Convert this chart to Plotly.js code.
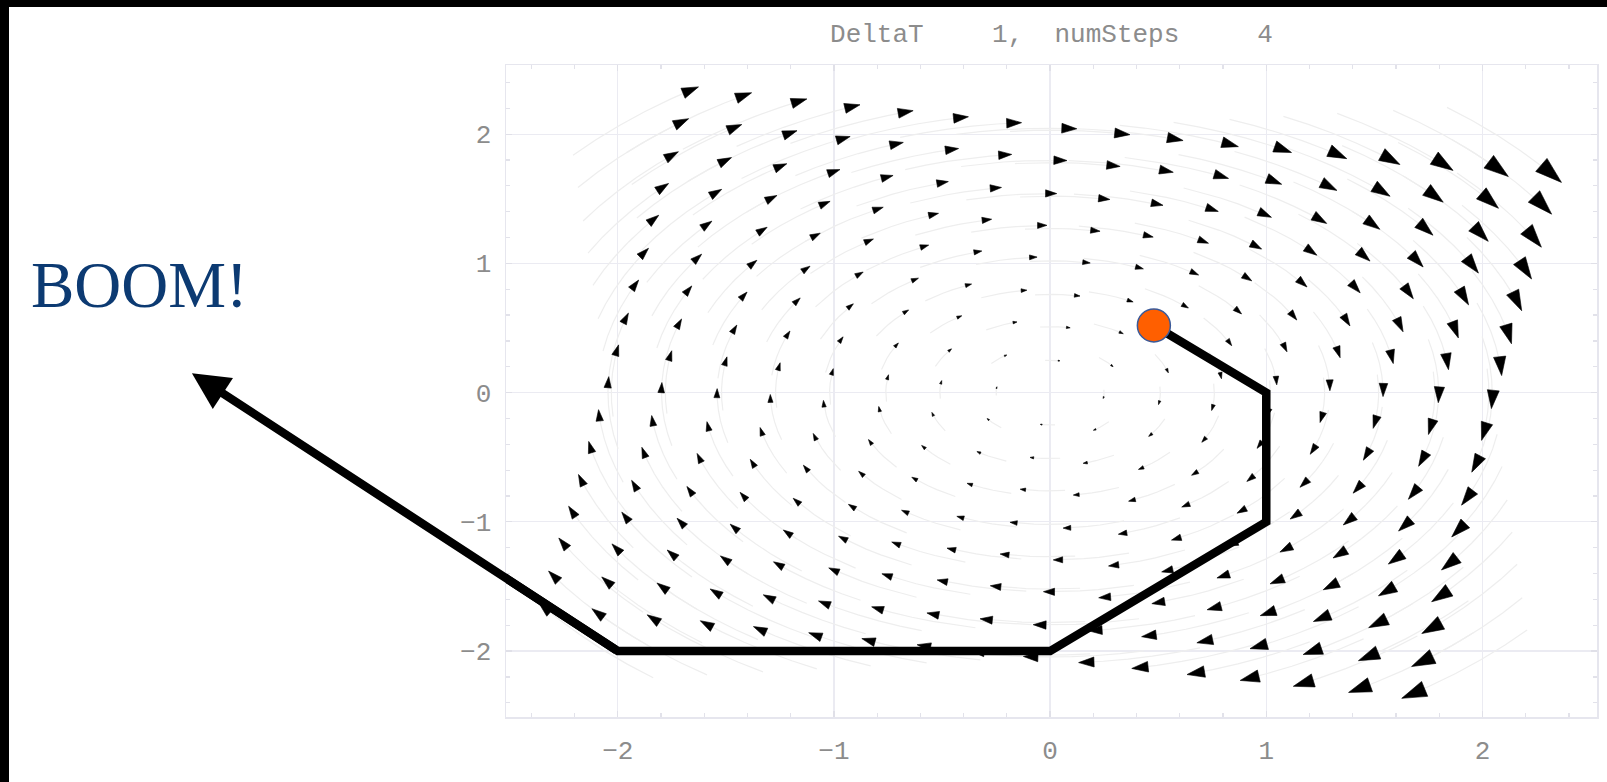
<!DOCTYPE html>
<html>
<head>
<meta charset="utf-8">
<script src="https://cdn.plot.ly/plotly-3.0.1.min.js"></script>
<style>
html,body{margin:0;padding:0;background:#000;width:1607px;height:782px;overflow:hidden;}
#plot{position:absolute;left:9px;top:7px;width:1598px;height:775px;}
</style>
</head>
<body>
<div id="plot"></div>
<script>
// ---------------- DATA ----------------
// stream seed grid (same values used for x and y)
const seedValues = [-2.03, -1.78, -1.52, -1.27, -1.02, -0.76, -0.51, -0.25, 0, 0.25, 0.51, 0.76, 1.02, 1.27, 1.52, 1.78, 2.03];
// integration time of each short stream (arrow tip sits at its end)
const flowTime = 0.183;
// Euler steps, DeltaT = 1, numSteps = 4 (last point is where the arrow ends)
const eulerX = [0.5, 1, 1, 0, -2, -3.97];
const eulerY = [0.5, 0, -1, -2, -2, 0.15];
// starting point marker
const startX = [0.48];
const startY = [0.52];
const xTickVals = [-2, -1, 0, 1, 2];
const yTickVals = [-2, -1, 0, 1, 2];
const titleParts = ['DeltaT', '1,', 'numSteps', '4'];
const boomText = 'BOOM!';

// system: x' = y, y' = -x
const fieldX = (x, y) => y;
const fieldY = (x, y) => -x;
function flow(x0, y0, t) {
  return [x0 * Math.cos(t) + y0 * Math.sin(t), -x0 * Math.sin(t) + y0 * Math.cos(t)];
}

// ---------------- LAYOUT CONSTANTS ----------------
const W = 1598, H = 775;
const M = {l: 497, r: 10, t: 58, b: 65};
const xRange = [-2.517, 2.53];
const yRange = [-2.51, 2.535];
const pxX = (W - M.l - M.r) / (xRange[1] - xRange[0]);
const pxY = (H - M.t - M.b) / (yRange[1] - yRange[0]);
const arrowScale = 7.6;
const arrowSkew = 0.12;   // arrowheads drawn a bit larger toward the right, as in the source

// ---------------- BUILD FIELD ----------------
const arX = [], arY = [], arS = [], arA = [];
const tlX = [], tlY = [];
for (const sy of seedValues) {
  for (const sx of seedValues) {
    const p = flow(sx, sy, flowTime);
    const vx = fieldX(p[0], p[1]), vy = fieldY(p[0], p[1]);
    const sp = Math.hypot(vx, vy);
    arX.push(p[0]); arY.push(p[1]);
    arS.push(arrowScale * sp * (1 + arrowSkew * p[0]));
    arA.push(Math.atan2(vx * pxX, vy * pxY) * 180 / Math.PI);
    for (let k = 0; k <= 5; k++) {
      const q = flow(sx, sy, flowTime * (k / 5) - flowTime * 0.5 * (1 - k / 5));
      tlX.push(q[0]); tlY.push(q[1]);
    }
    tlX.push(null); tlY.push(null);
  }
}

const traces = [
  {type: 'scatter', mode: 'lines', x: tlX, y: tlY, hoverinfo: 'skip',
   line: {color: '#eeeeee', width: 1.2}, showlegend: false},
  {type: 'scatter', mode: 'markers', x: arX, y: arY, hoverinfo: 'skip',
   marker: {symbol: 'arrow', size: arS, angle: arA, color: '#000', opacity: 1, line: {width: 0.6, color: '#000'}},
   showlegend: false},
  {type: 'scatter', mode: 'lines', x: eulerX, y: eulerY, hoverinfo: 'skip',
   line: {color: '#000', width: 8.5}, showlegend: false},
  {type: 'scatter', mode: 'markers', x: startX, y: startY, hoverinfo: 'skip', cliponaxis: false,
   marker: {size: 33, color: '#ff5f00', opacity: 1, line: {color: '#3a5a9a', width: 1.5}}, showlegend: false}
];

const sp = n => '\u00a0'.repeat(n);
const titleText = titleParts[0] + sp(4) + '<span style="font-size:10px">\u00a0</span>' + titleParts[1] + sp(2) +
                  titleParts[2] + sp(5) + titleParts[3];

const n = eulerX.length;
const tickFont = {family: 'Liberation Mono, Courier New, monospace', size: 26, color: '#8c8c8c'};
const axisCommon = {
  showgrid: true, gridcolor: '#ebebf2', gridwidth: 1.2, zeroline: false,
  showline: true, linecolor: '#e6e6ee', linewidth: 1.5, mirror: 'ticks',
  ticks: 'inside', ticklen: 6, tickcolor: '#e0e0e8', tickwidth: 1.2,
  minor: {dtick: 0.2, ticks: 'inside', ticklen: 4, tickcolor: '#e2e2ea', tickwidth: 1.2, showgrid: false},
  tickfont: tickFont, fixedrange: true
};

const layout = {
  width: W, height: H, margin: M,
  paper_bgcolor: '#fff', plot_bgcolor: '#fff',
  title: {text: titleText, x: 0.5, xref: 'paper', xanchor: 'center', y: 1 - 26 / H, yref: 'container', yanchor: 'middle',
          font: {family: 'Liberation Mono, Courier New, monospace', size: 26, color: '#8c8c8c'}},
  xaxis: Object.assign({}, axisCommon, {range: xRange, tickvals: xTickVals, ticklabelstandoff: 9}),
  yaxis: Object.assign({}, axisCommon, {range: yRange, tickvals: yTickVals, ticklabelstandoff: 8}),
  annotations: [
    {x: eulerX[n - 1], y: eulerY[n - 1], xref: 'x', yref: 'y',
     ax: eulerX[n - 2], ay: eulerY[n - 2], axref: 'x', ayref: 'y',
     showarrow: true, arrowhead: 2, arrowsize: 0.87, arrowwidth: 8.5, arrowcolor: '#000', text: ''},
    {x: (20 - M.l) / (W - M.l - M.r), y: 0.6628, xref: 'paper', yref: 'paper', xanchor: 'left', yanchor: 'middle',
     showarrow: false, text: boomText,
     font: {family: 'Liberation Serif, Times New Roman, serif', size: 65, color: '#0c3a72'}}
  ],
  showlegend: false
};

Plotly.newPlot('plot', traces, layout, {staticPlot: true, displayModeBar: false});
</script>
</body>
</html>
